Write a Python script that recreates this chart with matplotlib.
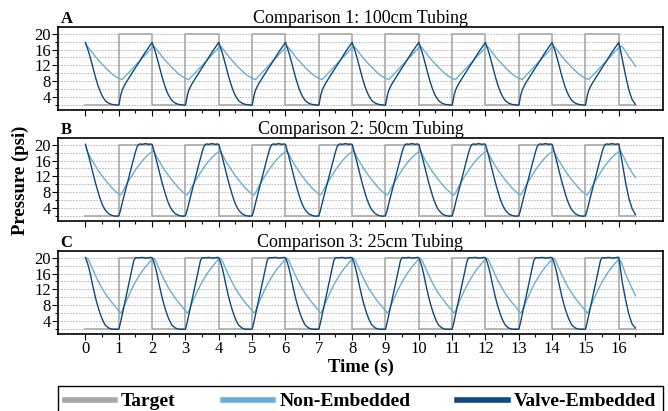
import matplotlib
matplotlib.use('Agg')
import matplotlib.pyplot as plt
from matplotlib.lines import Line2D
from matplotlib.ticker import FixedLocator

plt.rcParams['font.family'] = ['Liberation Serif', 'DejaVu Serif']

period = 2.0
n_cycles = 8

titles = ['Comparison 1: 100cm Tubing', 'Comparison 2: 50cm Tubing', 'Comparison 3: 25cm Tubing']
letters = ['A', 'B', 'C']
labels = ['Target', 'Non-Embedded', 'Valve-Embedded']
colors = ['#a9a9a9', '#6aaed6', '#0b4a80']

# target square wave (steps at each second)
target_t = list(range(17)) + [16.5]
target_p = [2, 20] * 8 + [2, 2]

# one 2 s cycle per trace (time in cycle, psi)
a_valve_t = [0, .05, .1, .15, .2, .25, .3, .35, .4, .45, .5, .55, .6, .7, .8, .9, 1.0,
             1.03, 1.06, 1.1, 1.15, 1.2, 1.4, 1.6, 1.8, 1.95]
a_valve_p = [17.8, 16.5, 15.3, 13.8, 12.2, 10.6, 9.0, 7.6, 6.3, 5.2, 4.3, 3.6, 3.0, 2.4, 2.1, 2.0, 1.9,
             3.2, 4.5, 5.7, 6.6, 7.4, 10.1, 12.7, 15.4, 17.2]
a_non_t = [0, .05, .1, .2, .3, .4, .5, .6, .7, .8, .9, 1.0, 1.1, 1.2, 1.3, 1.4, 1.5, 1.6, 1.7, 1.8, 1.9]
a_non_p = [16.5, 16.8, 16.4, 15.3, 14.2, 13.2, 12.3, 11.4, 10.6, 9.8, 9.2, 8.7, 8.4, 9.3, 10.2, 11.1,
           12.0, 12.9, 13.8, 14.7, 15.6]

b_valve_t = [0, .05, .1, .15, .2, .25, .3, .35, .4, .45, .5, .55, .6, .7, .8, .9, 1.0,
             1.05, 1.1, 1.2, 1.3, 1.4, 1.5, 1.55, 1.6, 1.65, 1.7, 1.8, 1.9, 1.95]
b_valve_p = [20.1, 18.6, 17.0, 15.3, 13.6, 11.9, 10.3, 8.8, 7.4, 6.1, 5.0, 4.1, 3.4, 2.5, 2.1, 1.9, 2.0,
             3.4, 5.2, 8.5, 11.8, 15.0, 18.2, 19.5, 20.1, 20.2, 20.1, 20.3, 20.1, 20.2]
b_non_t = [0, .05, .1, .2, .3, .4, .5, .6, .7, .8, .9, 1.0, 1.05, 1.1, 1.2, 1.3, 1.4, 1.5, 1.6, 1.7, 1.8, 1.9]
b_non_p = [18.2, 18.4, 17.6, 16.0, 14.6, 13.3, 12.1, 11.0, 10.0, 9.0, 8.2, 7.5, 7.3, 7.8, 9.5, 10.9,
           12.3, 13.6, 14.8, 15.9, 16.8, 17.6]

c_valve_t = [0, .05, .1, .15, .2, .25, .3, .35, .4, .45, .5, .55, .6, .7, .8, .9, 1.0,
             1.05, 1.1, 1.2, 1.3, 1.4, 1.45, 1.5, 1.6, 1.7, 1.8, 1.9, 1.95]
c_valve_p = [20.0, 18.9, 17.5, 15.7, 13.6, 11.7, 9.9, 8.3, 6.9, 5.6, 4.5, 3.6, 2.9, 2.2, 1.9, 1.9, 1.9,
             3.6, 5.6, 9.5, 13.4, 17.3, 19.3, 20.0, 20.0, 20.1, 19.9, 20.0, 20.1]
c_non_t = [0, .05, .1, .2, .3, .4, .5, .6, .7, .8, .9, 1.0, 1.05, 1.1, 1.2, 1.3, 1.4, 1.5, 1.6, 1.7, 1.8, 1.9]
c_non_p = [19.7, 19.9, 19.3, 17.4, 15.5, 13.8, 12.2, 10.9, 9.7, 8.6, 7.6, 6.6, 6.0, 6.5, 8.6, 10.5,
           12.3, 13.9, 15.3, 16.6, 17.7, 18.7]

# last half second (16 s to 16.5 s), read separately
tail_t = [16.0, 16.05, 16.1, 16.2, 16.3, 16.4, 16.5]
a_valve_tail = [17.8, 15.8, 13.7, 9.5, 5.8, 3.3, 2.1]
a_non_tail = [16.5, 16.8, 16.7, 15.6, 14.2, 13.0, 11.8]
b_valve_tail = [20.2, 18.0, 15.6, 10.6, 6.5, 3.8, 2.3]
b_non_tail = [18.2, 18.4, 17.7, 15.9, 14.3, 12.9, 11.7]
c_valve_tail = [20.1, 17.2, 14.0, 9.5, 5.7, 3.2, 2.2]
c_non_tail = [19.7, 19.2, 18.3, 15.9, 14.0, 12.2, 10.4]

# value at t = 0 for each trace
start_valve = [17.8, 20.1, 20.0]
start_non = [17.5, 20.0, 20.0]


def tile(ct, cp, tail, start):
    t, p = [], []
    for k in range(n_cycles):
        for tr, pr in zip(ct, cp):
            t.append(k * period + tr)
            p.append(pr)
    t += tail_t
    p += tail
    p[0] = start
    return t, p


valves = [(a_valve_t, a_valve_p, a_valve_tail), (b_valve_t, b_valve_p, b_valve_tail),
          (c_valve_t, c_valve_p, c_valve_tail)]
nons = [(a_non_t, a_non_p, a_non_tail), (b_non_t, b_non_p, b_non_tail),
        (c_non_t, c_non_p, c_non_tail)]

fig = plt.figure(figsize=(6.68, 4.11), dpi=100)
left, width, h = 0.0868, 0.9057, 0.2019
bottoms = [0.7324, 0.4623, 0.1873]

for i in range(3):
    ax = fig.add_axes([left, bottoms[i], width, h])
    ax.plot(target_t, target_p, drawstyle='steps-post', color=colors[0], lw=1.2, zorder=2)
    nt, npv = tile(*nons[i], start_non[i])
    ax.plot(nt, npv, color=colors[1], lw=1.0, zorder=3)
    vt, vp = tile(*valves[i], start_valve[i])
    ax.plot(vt, vp, color=colors[2], lw=1.0, zorder=4)

    ax.set_xlim(-0.825, 17.325)
    ax.set_ylim(0.7, 21.7)
    ax.xaxis.set_major_locator(FixedLocator(list(range(17))))
    ax.xaxis.set_minor_locator(FixedLocator([k + 0.5 for k in range(17)]))
    ax.set_yticks([4, 8, 12, 16, 20])
    ax.yaxis.set_minor_locator(FixedLocator([2, 6, 10, 14, 18]))
    ax.grid(True, axis='y', which='both', color='#b0b0b0', lw=0.6, ls=(0, (2, 1.5)), zorder=1)
    ax.tick_params(which='major', length=4, width=0.8, labelsize=12, pad=1)
    ax.tick_params(which='minor', length=2, width=0.8)
    if i < 2:
        ax.tick_params(axis='x', labelbottom=False)
    for s in ax.spines.values():
        s.set_linewidth(1.2)
    ax.set_title(titles[i], fontsize=13, pad=3)
    ax.set_title(letters[i], loc='left', fontsize=12, fontweight='bold', pad=3, x=0.004)

fig.text(0.031, 0.561, 'Pressure (psi)', rotation=90, ha='center', va='center',
         fontsize=13.5, fontweight='bold')
fig.text(0.54, 0.107, 'Time (s)', ha='center', va='center', fontsize=13.5, fontweight='bold')

handles = [Line2D([], [], color=c, lw=4) for c in colors]
leg = fig.legend(handles, labels, loc='upper left', bbox_to_anchor=(left, -0.2, width, 0.2608),
                 mode='expand', ncol=3, fancybox=False, edgecolor='black', framealpha=1,
                 handlelength=2.6, handletextpad=0.3, borderaxespad=0, borderpad=0.35,
                 prop={'weight': 'bold', 'size': 14})
leg.get_frame().set_linewidth(1.0)

fig.savefig('out.png', dpi=100)
